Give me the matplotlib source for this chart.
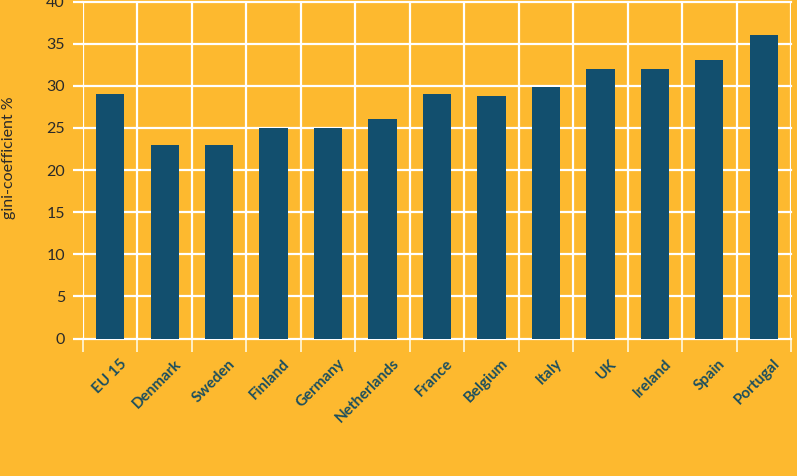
import matplotlib
matplotlib.use("Agg")
import matplotlib.pyplot as plt
import matplotlib.transforms as mtransforms
import numpy as np

countries = ["EU 15", "Denmark", "Sweden", "Finland", "Germany", "Netherlands",
             "France", "Belgium", "Italy", "UK", "Ireland", "Spain", "Portugal"]
gini = [29, 23, 23, 25, 25, 26, 29, 28.8, 29.8, 32, 32, 33, 36]
yticks = [0, 5, 10, 15, 20, 25, 30, 35, 40]

BG = "#FDB92F"
BAR = "#124F6E"
LABEL = "#1C4F5E"

plt.rcParams['font.family'] = ['Lato', 'DejaVu Sans']

W, H = 797, 476
fig = plt.figure(figsize=(W / 100, H / 100), dpi=100, facecolor=BG)
ax = fig.add_axes([83 / W, (H - 338.5) / H, (791 - 83) / W, (338.5 - 1.5) / H])
ax.set_facecolor(BG)

x = np.arange(len(countries))
ax.bar(x, gini, width=0.52, color=BAR, zorder=3)

ax.set_xlim(-0.5, len(countries) - 0.5)
ax.set_ylim(0, 40)

for s in ax.spines.values():
    s.set_visible(False)

ax.set_yticks(yticks)
ax.set_yticklabels([str(v) for v in yticks], fontsize=11.5, color="#2a2a2a")
ax.yaxis.grid(True, color="white", linewidth=1.6, zorder=1)
ax.tick_params(axis='y', length=7, width=1.6, color="white", pad=6)

bounds = np.arange(-0.5, len(countries), 1.0)
ax.set_xticks(bounds, minor=True)
ax.xaxis.grid(True, which='minor', color="white", linewidth=1.6, zorder=1)
ax.tick_params(axis='x', which='minor', length=9, width=1.3, color="#FFF3D0")
ax.set_xticks(x)
ax.set_xticklabels(countries, fontsize=11, fontweight='bold', color=LABEL,
                   rotation=45, ha='right', va='top', rotation_mode='anchor')
ax.tick_params(axis='x', which='major', length=0, pad=13)
offset = mtransforms.ScaledTranslation(9 / 100, 0, fig.dpi_scale_trans)
for lab in ax.get_xticklabels():
    lab.set_transform(lab.get_transform() + offset)
ax.set_axisbelow(True)

fig.text(9 / W, 1 - 158 / H, "gini-coefficient %", rotation=90, fontsize=11.5,
         color="#2a2a2a", ha='center', va='center')
for line in ax.get_xgridlines() + ax.get_ygridlines():
    line.set_clip_on(False)

fig.savefig("out.png", dpi=100, facecolor=BG)
